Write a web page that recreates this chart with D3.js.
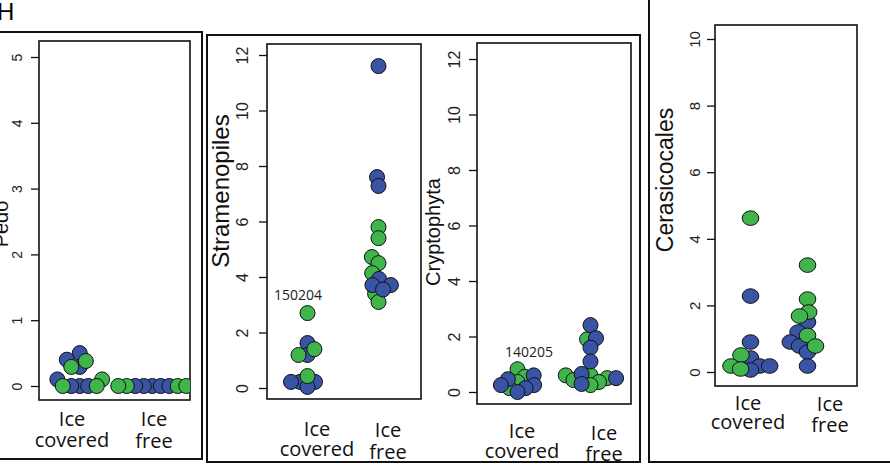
<!DOCTYPE html>
<html>
<head>
<meta charset="utf-8">
<script src="https://cdn.jsdelivr.net/npm/d3@7"></script>
<style>
  body { margin: 0; background: #fff; }
  svg { display: block; }
</style>
</head>
<body>
<svg id="chart" width="890" height="466"></svg>
<script>
// groups on the x axis
var groups = ["Ice covered", "Ice free"];

// Pedo
var pedoCoveredBlue  = [0.5, 0.4, 0.29, 0.1, 0, 0, 0];
var pedoCoveredGreen = [0.38, 0.29, 0.1, 0, 0];
var pedoFreeBlue     = [0, 0, 0, 0, 0];
var pedoFreeGreen    = [0, 0, 0, 0];

// Stramenopiles
var stramCoveredBlue  = [1.62, 1.19, 0.22, 0.22, 0.22, 0.04];
var stramCoveredGreen = [2.7, 1.4, 1.19, 0.43];
var stramFreeBlue     = [11.6, 7.6, 7.28, 3.93, 3.71, 3.71, 3.55];
var stramFreeGreen    = [5.8, 5.4, 4.72, 4.5, 4.14, 3.4, 3.1];

// Cryptophyta
var cryptoCoveredBlue  = [0.6, 0.46, 0.25, 0.25, 0.14, 0.0];
var cryptoCoveredGreen = [0.82, 0.55, 0.36, 0.14];
var cryptoFreeBlue     = [2.41, 1.94, 1.6, 1.1, 0.65, 0.5, 0.29];
var cryptoFreeGreen    = [1.9, 0.6, 0.6, 0.5, 0.43, 0.36, 0.25];

// Cerasicocales
var ceraCoveredBlue  = [2.28, 0.9, 0.42, 0.18, 0.18, 0.06];
var ceraCoveredGreen = [4.62, 0.51, 0.18, 0.09];
var ceraFreeBlue     = [1.5, 1.2, 0.9, 0.78, 0.6, 0.18];
var ceraFreeGreen    = [3.21, 2.19, 1.8, 1.68, 1.1, 0.78];

var pedoTicks = [0, 1, 2, 3, 4, 5];
var stramTicks = [0, 2, 4, 6, 8, 10, 12];
var cryptoTicks = [0, 2, 4, 6, 8, 10, 12];
var ceraTicks = [0, 2, 4, 6, 8, 10];

var BLUE = "#3a54a5", GREEN = "#40b54b";
var svg = d3.select("#chart");
var sans = "'Liberation Sans', Arial, sans-serif";
var myriad = "'Open Sans', sans-serif";

// outer frames
svg.append("rect").attr("x", -2).attr("y", 32).attr("width", 204).attr("height", 427)
    .attr("fill", "none").attr("stroke", "#111").attr("stroke-width", 2);
svg.append("rect").attr("x", 207).attr("y", 35).attr("width", 433).attr("height", 427)
    .attr("fill", "none").attr("stroke", "#111").attr("stroke-width", 2);
svg.append("rect").attr("x", 649).attr("y", -5).attr("width", 245).attr("height", 467)
    .attr("fill", "none").attr("stroke", "#111").attr("stroke-width", 2);

svg.append("text").attr("x", -3).attr("y", 20).style("font", "24px " + sans).text("H");

// simple beeswarm: place points by ascending value, nearest free spot to the centre
function swarm(pts, y, d) {
    var order = pts.slice().sort(function(a, b) { return a.v - b.v; });
    var placed = [];
    order.forEach(function(p) {
        var py = y(p.v);
        var near = placed.filter(function(q) { return Math.abs(q.y - py) < d; });
        var cands = [0];
        near.forEach(function(q) {
            var dx = Math.sqrt(d * d - (q.y - py) * (q.y - py));
            cands.push(q.x + dx, q.x - dx);
        });
        cands.sort(function(a, b) { return Math.abs(a) - Math.abs(b) || a - b; });
        var cx = cands.find(function(c) {
            return near.every(function(q) { return (q.x - c) * (q.x - c) + (q.y - py) * (q.y - py) >= d * d - 0.01; });
        });
        p.dx = cx;
        placed.push({x: cx, y: py});
    });
}

function panel(cfg) {
    var g = svg.append("g");
    var x = d3.scalePoint().domain(groups).range([cfg.left, cfg.right]).padding(0.5);
    var y = d3.scaleLinear().domain([0, cfg.max]).range([cfg.y0, cfg.yMax]);

    var clipId = "clip-" + cfg.name;
    svg.append("clipPath").attr("id", clipId).append("rect")
        .attr("x", cfg.left).attr("y", cfg.top)
        .attr("width", cfg.right - cfg.left).attr("height", cfg.bottom - cfg.top);

    g.append("rect").attr("x", cfg.left).attr("y", cfg.top)
        .attr("width", cfg.right - cfg.left).attr("height", cfg.bottom - cfg.top)
        .attr("fill", "#fff").attr("stroke", "#111").attr("stroke-width", 1.6);

    var ax = g.append("g").attr("transform", "translate(" + cfg.left + ",0)")
        .call(d3.axisLeft(y).tickValues(cfg.ticks).tickFormat(d3.format("d"))
            .tickSize(8).tickSizeOuter(0));
    ax.select(".domain").remove();
    ax.selectAll(".tick line").attr("stroke", "#111").attr("stroke-width", 1.3);
    ax.selectAll(".tick text")
        .attr("x", null).attr("dy", null)
        .attr("transform", "translate(" + (-cfg.tickOff) + ",0) rotate(-90)")
        .attr("text-anchor", "middle")
        .style("font", cfg.tickFont + "px " + sans).attr("fill", "#222");

    g.append("text")
        .attr("transform", "translate(" + cfg.titleX + "," + cfg.titleY + ") rotate(-90)")
        .attr("text-anchor", "middle")
        .style("font", cfg.titleFont + "px " + sans).attr("fill", "#111")
        .text(cfg.name);

    var pts = [];
    cfg.data.forEach(function(set) {
        set.vals.forEach(function(v) { pts.push({g: set.g, v: v, c: set.c}); });
    });
    groups.forEach(function(gr) {
        swarm(pts.filter(function(p) { return p.g == gr; }), y, cfg.spacing);
    });

    g.append("g").attr("clip-path", "url(#" + clipId + ")")
        .selectAll("ellipse").data(pts).enter().append("ellipse")
        .attr("cx", function(p) { return x(p.g) + cfg.shift[groups.indexOf(p.g)] + p.dx; })
        .attr("cy", function(p) { return y(p.v); })
        .attr("rx", cfg.rx).attr("ry", cfg.ry)
        .attr("fill", function(p) { return p.c; })
        .attr("stroke", "#111").attr("stroke-width", 1);

    // x labels, two lines each
    cfg.xlab.forEach(function(l) {
        g.append("text").attr("text-anchor", "middle").attr("x", l.x).attr("y", l.y1)
            .style("font", cfg.xFont + "px " + myriad).attr("fill", "#111").text(l.a);
        g.append("text").attr("text-anchor", "middle").attr("x", l.x).attr("y", l.y2)
            .style("font", cfg.xFont + "px " + myriad).attr("fill", "#111").text(l.b);
    });

    if (cfg.note) {
        g.append("text").attr("x", cfg.note.x).attr("y", cfg.note.y)
            .attr("text-anchor", "middle")
            .style("font", "14px " + myriad).attr("fill", "#222")
            .text(cfg.note.t);
    }
}

panel({
    name: "Pedo", left: 39, right: 190, top: 41, bottom: 400,
    y0: 386, yMax: 57, max: 5, ticks: pedoTicks, tickOff: 17, tickFont: 14,
    titleX: 8, titleY: 224, titleFont: 20, rx: 7.5, ry: 7.5, spacing: 8.5, shift: [3, 0],
    data: [
        {g: groups[0], c: BLUE, vals: pedoCoveredBlue},
        {g: groups[0], c: GREEN, vals: pedoCoveredGreen},
        {g: groups[1], c: BLUE, vals: pedoFreeBlue},
        {g: groups[1], c: GREEN, vals: pedoFreeGreen}
    ],
    xFont: 20,
    xlab: [{x: 72, y1: 426, y2: 447, a: "Ice", b: "covered"},
           {x: 154, y1: 426, y2: 448, a: "Ice", b: "free"}]
});

panel({
    name: "Stramenopiles", left: 267, right: 421, top: 44, bottom: 399,
    y0: 388, yMax: 55, max: 12, ticks: stramTicks, tickOff: 19, tickFont: 16,
    titleX: 229, titleY: 191, titleFont: 24, rx: 7.5, ry: 7.5, spacing: 9, shift: [2, -4],
    data: [
        {g: groups[0], c: BLUE, vals: stramCoveredBlue},
        {g: groups[0], c: GREEN, vals: stramCoveredGreen},
        {g: groups[1], c: GREEN, vals: stramFreeGreen},
        {g: groups[1], c: BLUE, vals: stramFreeBlue}
    ],
    xFont: 20,
    xlab: [{x: 317, y1: 436, y2: 456, a: "Ice", b: "covered"},
           {x: 388, y1: 437, y2: 459, a: "Ice", b: "free"}],
    note: {x: 298, y: 300, t: "150204"}
});

panel({
    name: "Cryptophyta", left: 477, right: 631, top: 43, bottom: 404,
    y0: 392, yMax: 59, max: 12, ticks: cryptoTicks, tickOff: 17, tickFont: 16,
    titleX: 440, titleY: 232, titleFont: 20, rx: 7.5, ry: 7.5, spacing: 9, shift: [2, -2],
    data: [
        {g: groups[0], c: GREEN, vals: cryptoCoveredGreen},
        {g: groups[0], c: BLUE, vals: cryptoCoveredBlue},
        {g: groups[1], c: GREEN, vals: cryptoFreeGreen},
        {g: groups[1], c: BLUE, vals: cryptoFreeBlue}
    ],
    xFont: 20,
    xlab: [{x: 522, y1: 438, y2: 458, a: "Ice", b: "covered"},
           {x: 604, y1: 440, y2: 461, a: "Ice", b: "free"}],
    note: {x: 529, y: 357, t: "140205"}
});

panel({
    name: "Cerasicocales", left: 715, right: 857, top: 25, bottom: 386,
    y0: 372, yMax: 39, max: 10, ticks: ceraTicks, tickOff: 15, tickFont: 15,
    titleX: 673, titleY: 180, titleFont: 23, rx: 8.3, ry: 7.3, spacing: 10, shift: [0, -14],
    data: [
        {g: groups[0], c: BLUE, vals: ceraCoveredBlue},
        {g: groups[0], c: GREEN, vals: ceraCoveredGreen},
        {g: groups[1], c: BLUE, vals: ceraFreeBlue},
        {g: groups[1], c: GREEN, vals: ceraFreeGreen}
    ],
    xFont: 20,
    xlab: [{x: 748, y1: 410, y2: 429, a: "Ice", b: "covered"},
           {x: 830, y1: 411, y2: 432, a: "Ice", b: "free"}]
});
</script>
</body>
</html>
